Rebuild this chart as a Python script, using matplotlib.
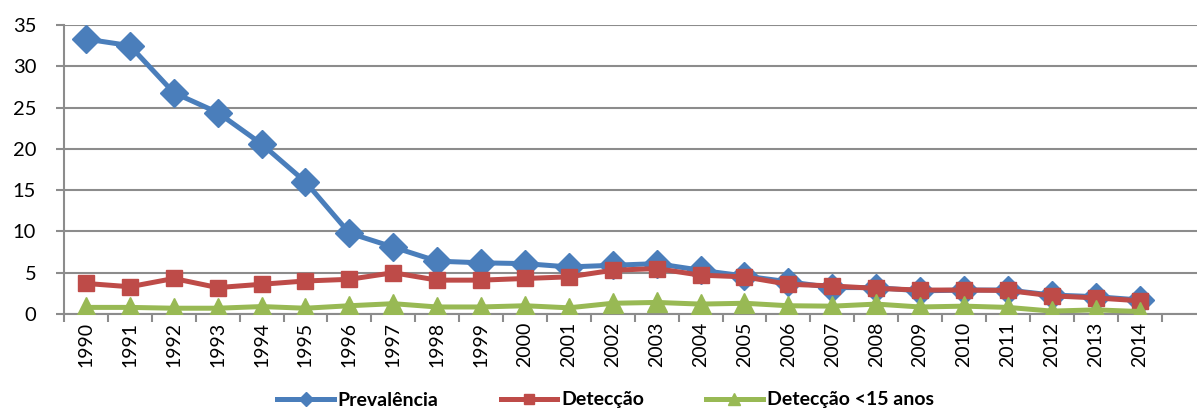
import matplotlib
matplotlib.use("Agg")
import matplotlib.pyplot as plt
from matplotlib.lines import Line2D
import numpy as np

years = [str(y) for y in range(1990, 2015)]
prevalencia = [33.3, 32.5, 26.8, 24.4, 20.6, 16.0, 9.8, 8.1, 6.4, 6.2, 6.1, 5.7,
               5.9, 6.1, 5.3, 4.6, 3.9, 3.2, 3.2, 2.8, 2.9, 2.9, 2.3, 2.1, 1.7]
deteccao = [3.7, 3.3, 4.3, 3.2, 3.6, 4.0, 4.2, 5.0, 4.1, 4.1, 4.3, 4.5,
            5.3, 5.5, 4.7, 4.5, 3.6, 3.4, 3.1, 2.9, 2.9, 2.85, 2.2, 1.95, 1.6]
deteccao15 = [0.8, 0.8, 0.7, 0.7, 0.9, 0.7, 1.0, 1.25, 0.85, 0.85, 1.0, 0.75,
              1.3, 1.4, 1.2, 1.3, 1.0, 0.95, 1.2, 0.85, 0.95, 0.8, 0.35, 0.5, 0.3]
labels = ["Prevalência", "Detecção", "Detecção <15 anos"]

blue = "#4A7EBB"
red = "#BE4B48"
green = "#98B954"
grid = "#8C8C8C"

plt.rcParams['font.family'] = ['Lato', 'DejaVu Sans']

fig = plt.figure(figsize=(11.97, 4.08), dpi=100)
ax = fig.add_axes([64/1197, 1 - 314/408, 1 - 64/1197, 289/408])

x = np.arange(len(years))
ax.plot(x, prevalencia, color=blue, lw=3.6, marker='D', ms=14, zorder=3)
ax.plot(x, deteccao, color=red, lw=3.6, marker='s', ms=12, zorder=4)
ax.plot(x, deteccao15, color=green, lw=3.6, marker='^', ms=14.5, zorder=5)

ax.set_ylim(0, 35)
ax.set_xlim(-0.5, (1197 - 86) / 43.9)
ax.set_yticks(range(0, 36, 5))
ax.yaxis.grid(True, color=grid, lw=1.5)
ax.set_axisbelow(True)

ax.set_xticks(x)
ax.set_xticklabels(years, rotation=90, fontsize=14)
ax.set_xticks(np.arange(-0.5, 25, 1), minor=True)
ax.tick_params(axis='x', which='major', length=0, pad=5.5)
ax.tick_params(axis='x', which='minor', length=6, color=grid, width=1.5)
ax.tick_params(axis='y', length=6, color=grid, width=1.5, labelsize=14.5, pad=14)

for s in ['top', 'right']:
    ax.spines[s].set_visible(False)
for s in ['left', 'bottom']:
    ax.spines[s].set_color(grid)
    ax.spines[s].set_linewidth(1.5)

handles = [Line2D([], [], color=blue, lw=3.6, marker='D', ms=7),
           Line2D([], [], color=red, lw=3.6, marker='s', ms=7),
           Line2D([], [], color=green, lw=3.6, marker='^', ms=8)]
leg = fig.legend(handles, labels, loc='center', bbox_to_anchor=(605.5/1197, 1 - 400/408),
                 ncol=3, frameon=False, handlelength=2.9, handletextpad=0.2,
                 columnspacing=3.2, prop={'weight': 'bold', 'size': 14})

fig.savefig("out.png", dpi=100)
